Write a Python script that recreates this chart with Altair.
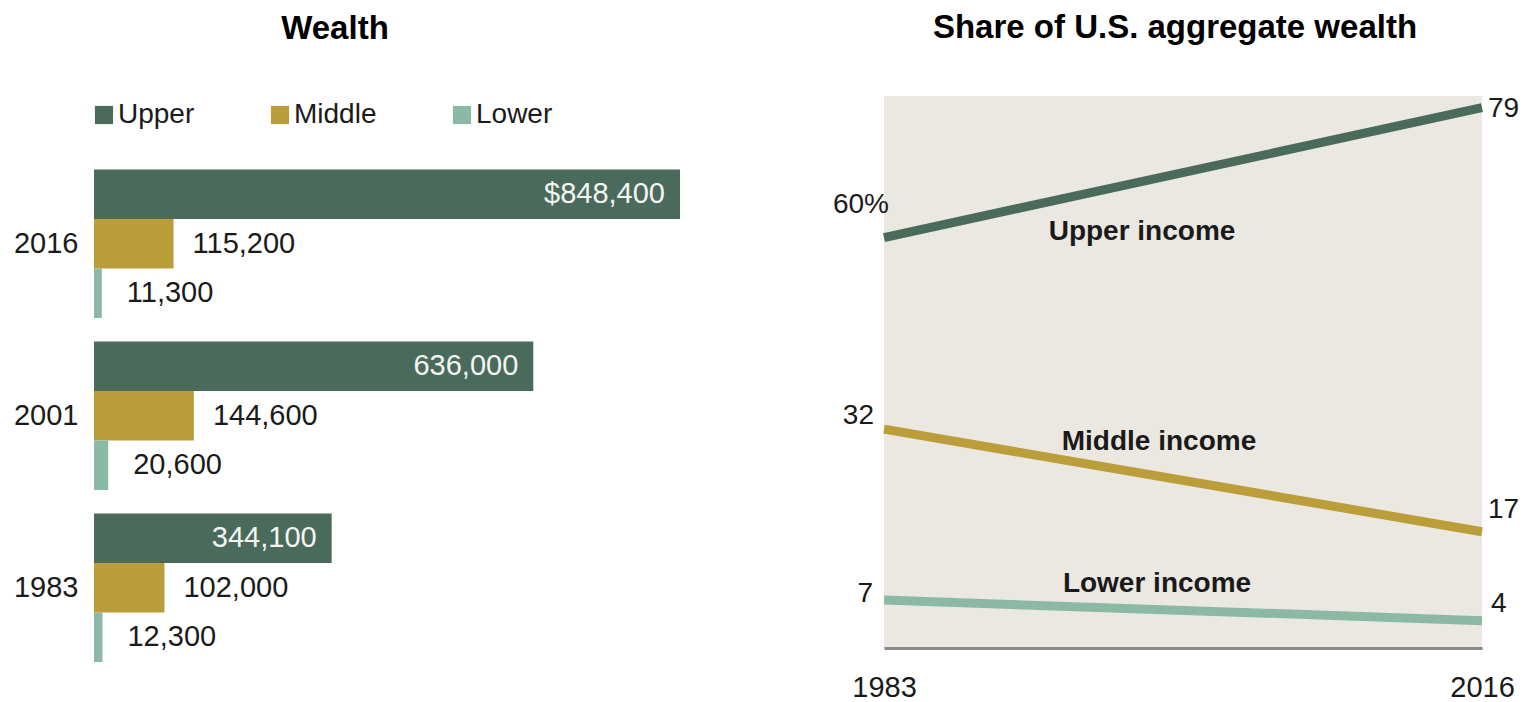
import altair as alt
import pandas as pd

# ---- data ----
years = ["2016", "2001", "1983"]
groups = ["Upper", "Middle", "Lower"]
wealth_upper = [848400, 636000, 344100]
wealth_middle = [115200, 144600, 102000]
wealth_lower = [11300, 20600, 12300]

share_years = [1983, 2016]
share_upper = [60, 79]
share_middle = [32, 17]
share_lower = [7, 4]
start_labels = ["60%", "32", "7"]
end_labels = ["79", "17", "4"]
line_labels = ["Upper income", "Middle income", "Lower income"]

colors = ["#4a6b5c", "#bb9e3a", "#8cb9a6"]
FONT = "Liberation Sans"
TXT = "#1a1a1a"

rows = []
for g, vals in zip(groups, [wealth_upper, wealth_middle, wealth_lower]):
    for i, (y, v) in enumerate(zip(years, vals)):
        lab = f"{v:,}"
        if g == "Upper" and i == 0:
            lab = "$" + lab
        rows.append({"year": y, "group": g, "wealth": v, "label": lab})
bars_df = pd.DataFrame(rows)

line_rows = []
for gi, (g, vals) in enumerate(zip(groups, [share_upper, share_middle, share_lower])):
    for yi, (yr_, v) in enumerate(zip(share_years, vals)):
        lab = start_labels[gi] if yi == 0 else end_labels[gi]
        line_rows.append({"year": yr_, "group": g, "share": v, "label": lab,
                          "name": line_labels[gi]})
lines_df = pd.DataFrame(line_rows)

# ---- left: wealth bars ----
ysc = alt.Y("year:N", sort=years,
            scale=alt.Scale(domain=years, paddingInner=0.1366, paddingOuter=0.2137, align=1),
            axis=alt.Axis(title=None, ticks=False, domain=False, labelFontSize=29,
                          labelPadding=16, labelColor=TXT, labelFont=FONT))
yoff = alt.YOffset("group:N", sort=groups,
                   scale=alt.Scale(domain=groups, paddingInner=0, paddingOuter=0))
xsc = alt.X("wealth:Q", scale=alt.Scale(domain=[0, 848400], nice=False), axis=None)

base = alt.Chart(bars_df)
bars = base.mark_bar().encode(
    x=xsc, y=ysc, yOffset=yoff,
    color=alt.Color("group:N", sort=groups,
                    scale=alt.Scale(domain=groups, range=colors),
                    legend=alt.Legend(title=None, orient="none", legendX=-4, legendY=5,
                                      direction="horizontal", symbolType="square",
                                      symbolSize=330, symbolStrokeWidth=0,
                                      labelFontSize=28, labelColor=TXT, labelFont=FONT,
                                      labelOffset=0, columnPadding=71)),
)
upper_txt = base.transform_filter(alt.datum.group == "Upper").mark_text(
    align="right", baseline="middle", dx=-15, fontSize=29, color="#f4f4f4"
).encode(x=xsc, y=ysc, yOffset=yoff, text="label:N")
mid_txt = base.transform_filter(alt.datum.group == "Middle").mark_text(
    align="left", baseline="middle", dx=19, fontSize=29, color=TXT
).encode(x=xsc, y=ysc, yOffset=yoff, text="label:N")
low_txt = base.transform_filter(alt.datum.group == "Lower").mark_text(
    align="left", baseline="middle", dx=25, fontSize=29, color=TXT
).encode(x=xsc, y=ysc, yOffset=yoff, text="label:N")

left = alt.layer(bars, upper_txt, mid_txt, low_txt).properties(
    width=586, height=566,
    title=alt.TitleParams("Wealth", fontSize=33, fontWeight="bold", anchor="middle",
                          dx=-52, offset=50, color="#000", font=FONT),
)

# ---- right: share lines ----
xr = alt.X("year:Q", scale=alt.Scale(domain=[1983, 2016], nice=False, zero=False),
           axis=alt.Axis(values=share_years, format="d", title=None, ticks=False, grid=False,
                         domainColor="#8a8a8a", domainWidth=3, labelFontSize=29,
                         labelPadding=25, labelFlush=False, labelColor=TXT, labelFont=FONT))
yr = alt.Y("share:Q", scale=alt.Scale(domain=[0, 80.7], nice=False), axis=None)

lines = alt.Chart(lines_df).mark_line(strokeCap="butt").encode(
    x=xr, y=yr,
    color=alt.Color("group:N", scale=alt.Scale(domain=groups, range=colors), legend=None),
    strokeWidth=alt.StrokeWidth("group:N", scale=alt.Scale(domain=groups, range=[9, 9, 7]),
                                legend=None),
    detail="group:N",
)

def point_label(g, yr_val, align, dx, dy):
    return alt.Chart(lines_df).transform_filter(
        (alt.datum.group == g) & (alt.datum.year == yr_val)
    ).mark_text(align=align, baseline="middle", dx=dx, dy=dy, fontSize=28, color=TXT).encode(
        x=xr, y=yr, text="label:N")

def name_label(g, dx, dy):
    return alt.Chart(lines_df).transform_filter(
        (alt.datum.group == g) & (alt.datum.year == 1983)
    ).mark_text(align="center", baseline="middle", dx=dx, dy=dy, fontSize=28,
                fontWeight="bold", color=TXT).encode(x=xr, y=yr, text="name:N")

labels = [
    point_label("Upper", 1983, "right", 5, -33),
    point_label("Middle", 1983, "right", -10, -13),
    point_label("Lower", 1983, "right", -11, -6),
    point_label("Upper", 2016, "left", 6, 1),
    point_label("Middle", 2016, "left", 6, -22),
    point_label("Lower", 2016, "left", 9, -17),
    name_label("Upper", 258, -6),
    name_label("Middle", 275, 13),
    name_label("Lower", 273, -16),
]

right = alt.layer(lines, *labels).properties(
    width=598, height=552,
    title=alt.TitleParams("Share of U.S. aggregate wealth", fontSize=33, fontWeight="bold",
                          anchor="middle", dx=-8, offset=45, color="#000", font=FONT),
    view=alt.ViewBackground(fill="#ebe8e1", strokeWidth=0),
)

chart = alt.hconcat(left, right, spacing=152).resolve_scale(
    color="independent", strokeWidth="independent"
).properties(
    padding={"left": 5, "right": 5, "top": 3, "bottom": 0}
).configure(font=FONT).configure_view(strokeWidth=0)

chart.save("out.html", embed_options={"renderer": "svg", "actions": False})
